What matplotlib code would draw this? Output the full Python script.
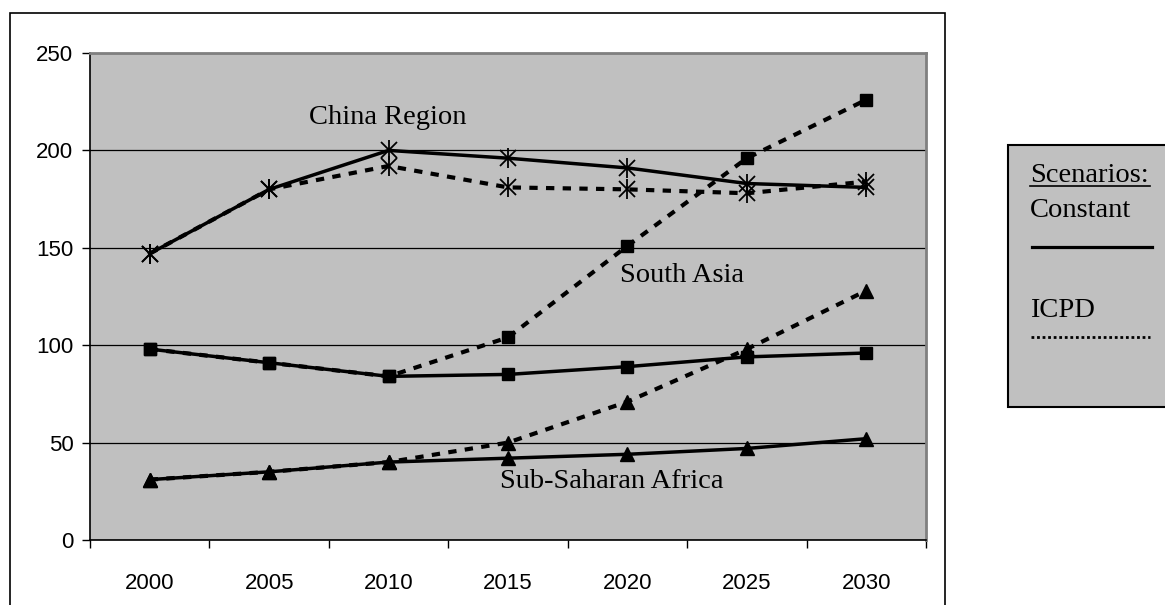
import matplotlib.pyplot as plt
from matplotlib.patches import Rectangle
from matplotlib.lines import Line2D

years = ['2000', '2005', '2010', '2015', '2020', '2025', '2030']

china_constant = [147, 180, 200, 196, 191, 183, 181]
china_icpd = [147, 180, 192, 181, 180, 178, 184]
south_asia_constant = [98, 91, 84, 85, 89, 94, 96]
south_asia_icpd = [98, 91, 84, 104, 151, 196, 226]
ssa_constant = [31, 35, 40, 42, 44, 47, 52]
ssa_icpd = [31, 35, 40, 50, 71, 98, 128]

W, H = 1165, 605
fig = plt.figure(figsize=(W / 100, H / 100), dpi=100)
fig.patch.set_facecolor('white')


def fx(px):
    return px / W


def fy(py):
    return 1 - py / H


# outer chart border (bottom runs past the image)
fig.add_artist(Rectangle((fx(10), fy(615)), fx(945) - fx(10), fy(13) - fy(615),
                         transform=fig.transFigure, fill=False,
                         edgecolor='black', linewidth=1.2))

ax = fig.add_axes([fx(90), fy(540), fx(926) - fx(90), fy(53) - fy(540)])
ax.set_facecolor('#c0c0c0')

x = list(range(len(years)))
solid = dict(color='black', linewidth=2.5, linestyle='-')
dotted = dict(color='black', linewidth=3, linestyle=(0, (2.0, 2.0)))

# China: asterisk = x + vertical bar
for vals, st in [(china_icpd, dotted), (china_constant, solid)]:
    ax.plot(x, vals, **st, zorder=3)
    ax.plot(x, vals, linestyle='none', marker='x', markersize=11,
            markeredgewidth=1.3, color='black', zorder=4)
    ax.plot(x, vals, linestyle='none', marker='|', markersize=14,
            markeredgewidth=1.3, color='black', zorder=4)

for vals, st in [(south_asia_icpd, dotted), (south_asia_constant, solid)]:
    ax.plot(x, vals, **st, marker='s', markersize=9, zorder=3)

for vals, st in [(ssa_icpd, dotted), (ssa_constant, solid)]:
    ax.plot(x, vals, **st, marker='^', markersize=10, zorder=3)

ax.set_xlim(-0.5, 6.5)
ax.set_ylim(0, 250)
ax.set_yticks([0, 50, 100, 150, 200, 250])
ax.set_xticks([i - 0.5 for i in range(8)], minor=False)
ax.set_xticklabels([])
ax.set_xticks(x, minor=True)
ax.set_xticklabels(years, minor=True)
ax.tick_params(axis='x', which='minor', length=0, pad=24, labelsize=16)
ax.tick_params(axis='x', which='major', length=6, width=1, direction='out')
ax.tick_params(axis='y', length=6, width=1, direction='out', pad=6, labelsize=16)
for lbl in ax.get_xticklabels(minor=True) + ax.get_yticklabels():
    lbl.set_family('Liberation Sans')

ax.grid(axis='y', color='black', linewidth=0.9)
ax.set_axisbelow(True)
ax.spines['left'].set_color('black')
ax.spines['bottom'].set_color('black')
ax.spines['left'].set_linewidth(1.2)
ax.spines['bottom'].set_linewidth(1.2)
ax.spines['top'].set_color('#808080')
ax.spines['right'].set_color('#808080')
ax.spines['top'].set_linewidth(2)
ax.spines['right'].set_linewidth(2)

serif = 'Liberation Serif'
ax.text(1.33, 213.5, 'China Region', family=serif, fontsize=20.5, va='baseline', zorder=5)
ax.text(3.94, 132.6, 'South Asia', family=serif, fontsize=20.5, va='baseline', zorder=5)
ax.text(2.93, 26.5, 'Sub-Saharan Africa', family=serif, fontsize=20.5, va='baseline', zorder=5)

# legend box at right
fig.add_artist(Rectangle((fx(1008), fy(407)), fx(1180) - fx(1008), fy(145) - fy(407),
                         transform=fig.transFigure, facecolor='#c0c0c0',
                         edgecolor='black', linewidth=1.5))
fig.text(fx(1030), fy(182), 'Scenarios:', family=serif, fontsize=20.5, va='baseline')
fig.add_artist(Line2D([fx(1030), fx(1150)], [fy(186), fy(186)],
                      transform=fig.transFigure, color='black', linewidth=1.2))
fig.text(fx(1030), fy(217), 'Constant', family=serif, fontsize=20.5, va='baseline')
fig.add_artist(Line2D([fx(1032), fx(1152)], [fy(247), fy(247)],
                      transform=fig.transFigure, color='black', linewidth=2.3))
fig.text(fx(1030), fy(317), 'ICPD', family=serif, fontsize=20.5, va='baseline')
fig.add_artist(Line2D([fx(1031), fx(1150)], [fy(337), fy(337)],
                      transform=fig.transFigure, color='black', linewidth=2,
                      linestyle=(0, (1, 1))))

fig.savefig('out.png', dpi=100)
